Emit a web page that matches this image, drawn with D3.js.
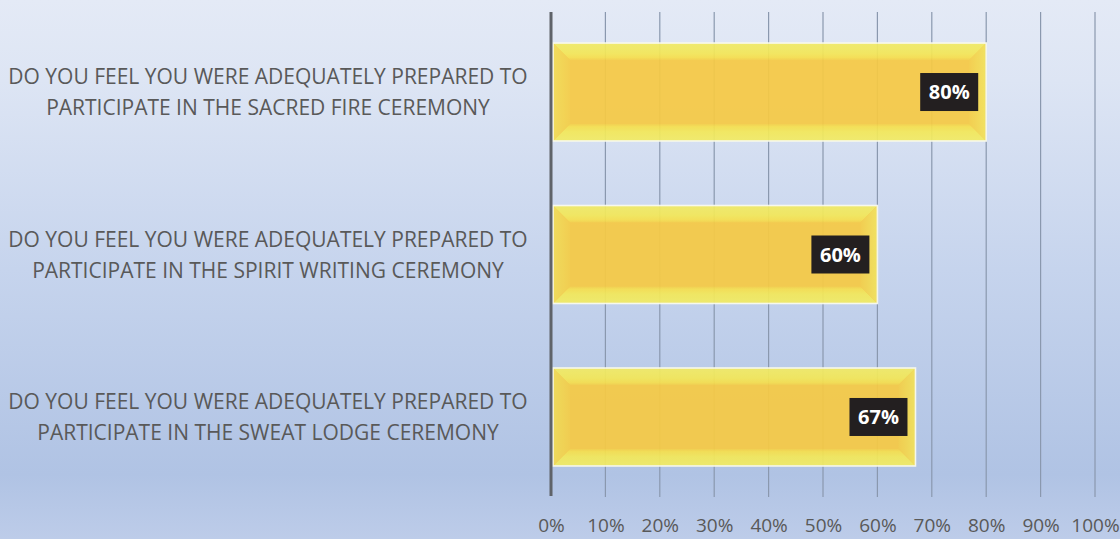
<!DOCTYPE html>
<html>
<head>
<meta charset="utf-8">
<script src="https://cdn.jsdelivr.net/npm/d3@7"></script>
<style>
  html, body { margin: 0; padding: 0; }
  body { width: 1120px; height: 539px; overflow: hidden; }
  svg { display: block; }
</style>
</head>
<body>
<svg id="chart" width="1120" height="539"></svg>
<script>
// ---- data ----
const categories = [
  "DO YOU FEEL YOU WERE ADEQUATELY PREPARED TO|PARTICIPATE IN THE SACRED FIRE CEREMONY",
  "DO YOU FEEL YOU WERE ADEQUATELY PREPARED TO|PARTICIPATE IN THE SPIRIT WRITING CEREMONY",
  "DO YOU FEEL YOU WERE ADEQUATELY PREPARED TO|PARTICIPATE IN THE SWEAT LODGE CEREMONY"
];
const values = [0.80, 0.60, 0.67];
const tickValues = [0, 0.1, 0.2, 0.3, 0.4, 0.5, 0.6, 0.7, 0.8, 0.9, 1.0];
const tickLabels = ["0%", "10%", "20%", "30%", "40%", "50%", "60%", "70%", "80%", "90%", "100%"];

// ---- layout ----
const W = 1120, H = 539;
const plotLeft = 551, plotRight = 1095, plotTop = 12, plotBottom = 497;
const svg = d3.select("#chart");
const defs = svg.append("defs");

// background gradient
const bg = defs.append("linearGradient").attr("id", "bg").attr("x1", 0).attr("y1", 0).attr("x2", 0).attr("y2", 1);
[["0%", "#e4eaf6"], ["15%", "#dde5f4"], ["50%", "#c6d4ed"], ["88%", "#b0c3e4"], ["100%", "#bdcce9"]]
  .forEach(([o, c]) => bg.append("stop").attr("offset", o).attr("stop-color", c));
svg.append("rect").attr("width", W).attr("height", H).attr("fill", "url(#bg)");

// gradients for bevel
function grad(id, x1, y1, x2, y2, stops) {
  const g = defs.append("linearGradient").attr("id", id)
    .attr("x1", x1).attr("y1", y1).attr("x2", x2).attr("y2", y2);
  stops.forEach(([o, c]) => g.append("stop").attr("offset", o).attr("stop-color", c));
}
const bevelStops = [["0%", "#f1eb66"], ["55%", "#f3e85a"], ["85%", "#f6df4e"], ["100%", "#f5cf47"]];
grad("bvTop", 0, 0, 0, 1, bevelStops);
grad("bvBot", 0, 1, 0, 0, bevelStops);
grad("bvLeft", 0, 0, 1, 0, [["0%", "#f3dc52"], ["100%", "#f5cd46"]]);
grad("bvRight", 1, 0, 0, 0, [["0%", "#f3e257"], ["100%", "#f5cd46"]]);

const x = d3.scaleLinear().domain([0, 1]).range([plotLeft, plotRight]);
const y = d3.scaleBand().domain(categories).range([plotTop, plotBottom])
  .paddingInner(0.397).paddingOuter(0.191);

// gridlines
svg.append("g").selectAll("line").data(tickValues.filter(d => d > 0)).join("line")
  .attr("x1", d => x(d)).attr("x2", d => x(d))
  .attr("y1", plotTop).attr("y2", plotBottom)
  .attr("stroke", "#8a98ae").attr("stroke-width", 1.2);

// bars
const bars = svg.append("g").selectAll("g").data(values).join("g")
  .attr("opacity", 0.93);
const bev = 17;
bars.each(function(v, i) {
  const g = d3.select(this);
  const x0 = x(0) + 2, x1 = x(v), y0 = y(categories[i]), y1 = y0 + y.bandwidth();
  const b = bev;
  g.append("rect").attr("x", x0).attr("y", y0).attr("width", x1 - x0).attr("height", y1 - y0)
    .attr("fill", "#f6ca45");
  g.append("path").attr("d", `M${x0},${y0}L${x1},${y0}L${x1 - b},${y0 + b}L${x0 + b},${y0 + b}Z`).attr("fill", "url(#bvTop)");
  g.append("path").attr("d", `M${x0},${y1}L${x1},${y1}L${x1 - b},${y1 - b}L${x0 + b},${y1 - b}Z`).attr("fill", "url(#bvBot)");
  g.append("path").attr("d", `M${x0},${y0}L${x0 + b},${y0 + b}L${x0 + b},${y1 - b}L${x0},${y1}Z`).attr("fill", "url(#bvLeft)");
  g.append("path").attr("d", `M${x1},${y0}L${x1 - b},${y0 + b}L${x1 - b},${y1 - b}L${x1},${y1}Z`).attr("fill", "url(#bvRight)");
  g.append("rect").attr("x", x0).attr("y", y0).attr("width", x1 - x0).attr("height", y1 - y0)
    .attr("fill", "none").attr("stroke", "#fbfbec").attr("stroke-width", 1.6);
});

// axis line at 0
svg.append("line").attr("x1", x(0)).attr("x2", x(0)).attr("y1", plotTop).attr("y2", plotBottom - 1)
  .attr("stroke", "#5f6369").attr("stroke-width", 3);

// data labels
const lab = svg.append("g").selectAll("g").data(values).join("g")
  .attr("transform", (d, i) => `translate(${x(d) - 8},${y(categories[i]) + y.bandwidth() / 2})`);
lab.append("rect").attr("x", -58).attr("y", -19).attr("width", 58).attr("height", 38).attr("fill", "#231f20");
lab.append("text").attr("x", -29).attr("y", 0).attr("dy", "0.36em")
  .attr("text-anchor", "middle").attr("fill", "#ffffff")
  .attr("font-family", "'Open Sans', sans-serif").attr("font-weight", 700).attr("font-size", 20)
  .text(d => d3.format(".0%")(d));

// x axis tick labels
const xAxis = d3.axisBottom(x).tickValues(tickValues).tickFormat((d, i) => tickLabels[i]).tickSize(0).tickPadding(0);
const ax = svg.append("g").attr("transform", `translate(0,${plotBottom})`).call(xAxis);
ax.select(".domain").remove();
ax.selectAll("text").attr("y", 28).attr("dy", "0.36em")
  .attr("font-family", "'Open Sans', sans-serif").attr("font-size", 19).attr("fill", "#595959");

// category labels
const cat = svg.append("g").selectAll("text").data(categories).join("text")
  .attr("text-anchor", "middle")
  .attr("font-family", "'Open Sans', sans-serif").attr("font-size", 21).attr("fill", "#595959")
  .attr("transform", d => `translate(268,${y(d) + y.bandwidth() / 2})`);
cat.selectAll("tspan").data(d => d.split("|")).join("tspan")
  .attr("x", 0).attr("y", (d, i) => (i === 0 ? -15.5 : 15.5)).attr("dy", "0.36em")
  .text(d => d);
</script>
</body>
</html>
